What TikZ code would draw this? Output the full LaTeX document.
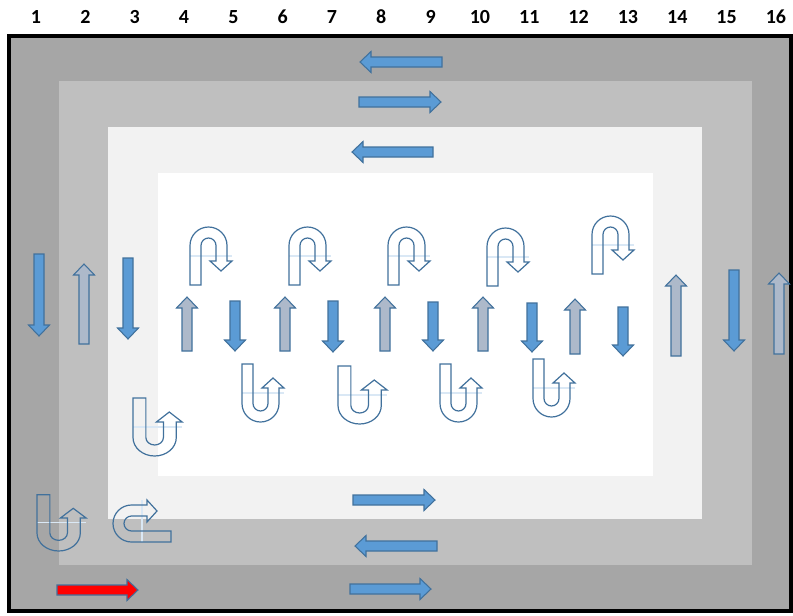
\documentclass[tikz,border=0pt]{standalone}
\usepackage{fontspec}
\setmainfont{Carlito}
\definecolor{arrblue}{HTML}{5B9BD5}
\definecolor{arredge}{HTML}{41719C}
\definecolor{arrgray}{HTML}{ADB9CA}
\definecolor{bgdark}{HTML}{A6A6A6}
\definecolor{bgmid}{HTML}{BFBFBF}
\definecolor{bglight}{HTML}{F2F2F2}
\definecolor{uline}{HTML}{DAE8F5}
% straight block arrow: style, tail x, tail y, angle, length
\newcommand{\blkarrow}[5]{%
  \draw[#1, shift={(#2,#3)}, rotate=#4] (0,-5) -- ({#5-11},-5) -- ({#5-11},-10.5) -- (#5,0)
    -- ({#5-11},10.5) -- ({#5-11},5) -- (0,5) -- cycle;}
\begin{document}
\begin{tikzpicture}[x=0.75pt, y=0.75pt,
  bluearr/.style={fill=arrblue, draw=arredge, line width=0.8pt},
  grayarr/.style={fill=arrgray, draw=arredge, line width=0.8pt},
  redarr/.style={fill=red, draw=arredge, line width=0.8pt},
  uturn/.pic={
    \draw[uline, line width=0.8pt] (0,-29) -- (42,-29);
    \draw[arredge, line width=0.9pt] (0,-58) -- (0,-18.5) arc (180:0:18.5) -- (37,-34) -- (42,-34)
      -- (31,-44) -- (20,-34) -- (26,-34) -- (26,-18.5) arc (0:180:7.5) -- (11,-58) -- cycle;
  }]
\useasboundingbox (0,0) rectangle (793,-615);
% nested areas
\fill[bgdark] (9,-36) rectangle (791,-611);
\draw[line width=3pt] (9,-36) rectangle (791,-611);
\fill[bgmid] (59,-81) rectangle (752,-565);
\fill[bglight] (108,-127) rectangle (702,-519);
\fill[white] (158,-173) rectangle (653,-476);
% column numbers
\foreach \i in {1,...,16}
  \node[font=\bfseries\fontsize{15}{18}\selectfont] (n\i) at ({36+(\i-1)*49.33},-17) {\i};
% top and bottom lanes
\blkarrow{bluearr}{442}{-62}{180}{82}
\blkarrow{bluearr}{359}{-102}{0}{82}
\blkarrow{bluearr}{433}{-152}{180}{81}
\blkarrow{bluearr}{353}{-500}{0}{82}
\blkarrow{bluearr}{437}{-546}{180}{82}
\blkarrow{bluearr}{350}{-589}{0}{81}
\blkarrow{redarr}{57}{-590}{0}{81}
% side lanes
\blkarrow{bluearr}{39}{-254}{-90}{82}
\blkarrow{grayarr}{84}{-344}{90}{80}
\blkarrow{bluearr}{128}{-258}{-90}{81}
\blkarrow{grayarr}{676}{-356}{90}{81}
\blkarrow{bluearr}{734}{-270}{-90}{81}
\blkarrow{grayarr}{779}{-354}{90}{81}
% middle columns
\blkarrow{grayarr}{187}{-351}{90}{54}
\blkarrow{bluearr}{235}{-301}{-90}{50}
\blkarrow{grayarr}{285}{-351}{90}{54}
\blkarrow{bluearr}{333}{-301}{-90}{51}
\blkarrow{grayarr}{385}{-351}{90}{54}
\blkarrow{bluearr}{433}{-302}{-90}{49}
\blkarrow{grayarr}{483}{-351}{90}{54}
\blkarrow{bluearr}{532}{-303}{-90}{49}
\blkarrow{grayarr}{575}{-354}{90}{55}
\blkarrow{bluearr}{623}{-307}{-90}{49}
% u-turns
\pic at (190,-227) {uturn};
\pic at (289,-227) {uturn};
\pic at (388,-227) {uturn};
\pic at (487,-228) {uturn};
\pic at (592,-216) {uturn};
\pic[yscale=-1, xscale=1.17] at (133,-456) {uturn};
\pic[yscale=-1] at (242,-422) {uturn};
\pic[yscale=-1, xscale=1.17] at (338,-424) {uturn};
\pic[yscale=-1] at (440,-422) {uturn};
\pic[yscale=-1] at (533,-417) {uturn};
\pic[yscale=-0.97, xscale=1.17] at (37,-551) {uturn};
\pic[rotate=90] at (113,-542) {uturn};
\end{tikzpicture}
\end{document}
